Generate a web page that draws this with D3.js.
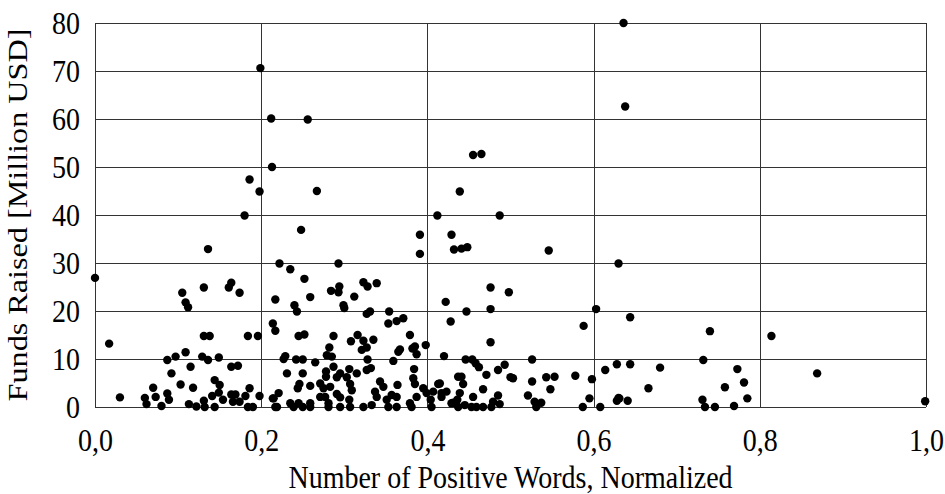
<!DOCTYPE html>
<html lang="en">
<head>
    <meta charset="UTF-8" />
    <title>Funds Raised vs Positive Words</title>
    <script src="https://d3js.org/d3.v7.min.js"></script>
    <style>
        body { margin: 0; background: #fff; }
        text { font-family: "Liberation Serif", "Times New Roman", serif; fill: #000; }
    </style>
</head>
<body>
    <div id="chart"></div>
    <script>
// x: number of positive words (normalized), y: funds raised (million USD)
var posWords = [
    0.199, 0.212, 0.256, 0.213, 0.186, 0.198, 0.180, 0.136, 0.222, 0.267,
    0.412, 0.248, 0.391, 0.391, 0.429, 0.432, 0.235, 0.293, 0.636, 0.638,
    0.455, 0.465, 0.439, 0.487, 0.441, 0.448, 0.546, 0.630, 0.000, 0.017,
    0.030, 0.105, 0.109, 0.112, 0.131, 0.161, 0.164, 0.174, 0.217, 0.214,
    0.217, 0.131, 0.138, 0.184, 0.196, 0.087, 0.097, 0.109, 0.129, 0.136,
    0.149, 0.164, 0.172, 0.115, 0.092, 0.103, 0.118, 0.070, 0.073, 0.060,
    0.062, 0.087, 0.089, 0.080, 0.113, 0.122, 0.131, 0.132, 0.144, 0.150,
    0.141, 0.144, 0.149, 0.154, 0.164, 0.169, 0.166, 0.174, 0.181, 0.186,
    0.184, 0.190, 0.198, 0.214, 0.219, 0.252, 0.240, 0.243, 0.259, 0.284,
    0.294, 0.293, 0.299, 0.300, 0.312, 0.323, 0.328, 0.339, 0.327, 0.331,
    0.354, 0.353, 0.363, 0.371, 0.422, 0.428, 0.245, 0.252, 0.287, 0.308,
    0.316, 0.323, 0.327, 0.321, 0.335, 0.379, 0.367, 0.365, 0.382, 0.387,
    0.398, 0.385, 0.420, 0.282, 0.279, 0.285, 0.229, 0.227, 0.242, 0.250,
    0.265, 0.287, 0.328, 0.332, 0.327, 0.306, 0.315, 0.359, 0.384, 0.383,
    0.385, 0.231, 0.250, 0.278, 0.278, 0.291, 0.295, 0.303, 0.307, 0.309,
    0.246, 0.244, 0.259, 0.271, 0.275, 0.283, 0.277, 0.291, 0.295, 0.271,
    0.259, 0.259, 0.221, 0.215, 0.217, 0.235, 0.239, 0.245, 0.250, 0.281,
    0.281, 0.295, 0.306, 0.307, 0.323, 0.333, 0.337, 0.339, 0.343, 0.347,
    0.351, 0.353, 0.357, 0.363, 0.364, 0.363, 0.379, 0.381, 0.387, 0.395,
    0.399, 0.404, 0.405, 0.407, 0.413, 0.417, 0.423, 0.429, 0.437, 0.436,
    0.476, 0.498, 0.447, 0.476, 0.476, 0.446, 0.454, 0.458, 0.462, 0.471,
    0.485, 0.493, 0.500, 0.503, 0.526, 0.526, 0.543, 0.553, 0.548, 0.521,
    0.529, 0.537, 0.531, 0.578, 0.588, 0.603, 0.598, 0.595, 0.587, 0.608,
    0.614, 0.628, 0.644, 0.644, 0.628, 0.630, 0.641, 0.415, 0.417, 0.441,
    0.443, 0.439, 0.455, 0.467, 0.485, 0.487, 0.431, 0.437, 0.445, 0.453,
    0.459, 0.467, 0.477, 0.479, 0.680, 0.666, 0.631, 0.740, 0.732, 0.731,
    0.734, 0.746, 0.769, 0.758, 0.773, 0.781, 0.785, 0.814, 0.869, 0.999
];
var fundsRaised = [
    70.6, 60.1, 59.9, 50.0, 47.4, 44.9, 39.9, 32.9, 29.9, 45.0,
    39.9, 36.9, 35.9, 31.9, 35.9, 32.8, 28.7, 29.9, 80.0, 62.6,
    52.5, 52.7, 44.9, 39.9, 33.0, 33.3, 32.6, 29.9, 26.9, 13.2,
    2.0, 23.8, 21.8, 20.8, 24.9, 24.9, 25.9, 23.8, 22.4, 17.4,
    15.9, 14.8, 14.8, 14.8, 14.8, 9.8, 10.5, 11.4, 10.5, 9.8,
    10.3, 8.4, 8.6, 8.4, 7.0, 4.7, 4.0, 4.0, 2.1, 1.9,
    0.6, 2.8, 1.5, 0.2, 0.6, 0.1, 1.3, 0.0, 5.6, 4.6,
    2.3, 0.0, 3.0, 1.5, 2.6, 2.6, 1.1, 1.1, 2.3, 3.9,
    0.0, 0.0, 2.3, 1.8, 0.0, 26.7, 21.2, 19.9, 22.9, 24.2,
    25.1, 23.9, 21.2, 20.6, 23.0, 26.0, 25.1, 25.8, 19.4, 19.9,
    19.9, 17.4, 17.9, 18.5, 21.9, 17.8, 14.8, 15.1, 14.8, 13.7,
    15.0, 13.8, 12.4, 11.9, 14.0, 15.0, 12.0, 11.5, 12.2, 11.0,
    12.9, 12.6, 10.6, 12.4, 10.8, 10.5, 10.6, 10.0, 9.9, 9.9,
    9.3, 8.4, 9.9, 8.1, 7.7, 7.9, 7.0, 9.6, 7.9, 6.0,
    4.8, 7.0, 7.0, 7.4, 6.3, 6.2, 7.0, 6.2, 4.8, 3.5,
    4.8, 3.9, 4.4, 4.9, 3.9, 4.2, 2.1, 2.7, 2.0, 2.1,
    0.8, 0.0, 2.9, 1.8, 0.0, 0.8, 0.0, 0.8, 0.0, 0.8,
    0.0, 0.0, 1.5, 0.0, 0.0, 0.4, 3.2, 2.1, 5.3, 4.2,
    1.5, 0.0, 2.5, 2.1, 4.6, 0.0, 0.8, 0.0, 2.1, 3.9,
    2.9, 1.5, 0.0, 3.2, 4.8, 2.9, 3.2, 0.8, 6.3, 1.5,
    24.9, 23.9, 19.9, 20.4, 13.5, 9.9, 9.9, 9.1, 8.3, 6.7,
    7.7, 8.8, 6.2, 6.0, 9.9, 5.3, 6.2, 6.3, 3.7, 2.4,
    1.1, 0.9, 0.0, 6.5, 16.9, 20.4, 5.8, 1.8, 0.0, 0.0,
    7.7, 8.9, 8.9, 18.7, 1.3, 1.9, 1.3, 4.9, 2.1, 6.3,
    4.8, 2.9, 2.1, 3.7, 2.4, 0.6, 0.9, 0.0, 0.4, 0.0,
    0.0, 0.0, 0.0, 1.1, 8.2, 3.9, 1.8, 15.8, 9.8, 1.5,
    0.0, 0.0, 0.2, 4.1, 7.9, 5.1, 1.8, 14.8, 7.0, 1.2
];
var xTicks = [0, 0.2, 0.4, 0.6, 0.8, 1.0];
var yTicks = [0, 10, 20, 30, 40, 50, 60, 70, 80];

var width = 945, height = 494;
var margin = { top: 23, right: 19, bottom: 87, left: 95 };
var stretch = 1.15; // text in the original is drawn a bit taller than wide

var svg = d3.select("#chart").append("svg")
    .attr("width", width)
    .attr("height", height);

var x = d3.scaleLinear().domain([0, 1]).range([margin.left, width - margin.right]);
var y = d3.scaleLinear().domain([0, 80]).range([height - margin.bottom, margin.top]);

// gridlines
svg.append("g").selectAll("line")
    .data(yTicks).enter().append("line")
    .attr("x1", x(0)).attr("x2", x(1))
    .attr("y1", function(d) { return Math.round(y(d)) + 0.5; })
    .attr("y2", function(d) { return Math.round(y(d)) + 0.5; })
    .attr("stroke", "#333");
svg.append("g").selectAll("line")
    .data(xTicks).enter().append("line")
    .attr("y1", y(0)).attr("y2", y(80))
    .attr("x1", function(d) { return Math.round(x(d)) + 0.5; })
    .attr("x2", function(d) { return Math.round(x(d)) + 0.5; })
    .attr("stroke", "#333");

// axes (labels only)
var fmt = function(d) { return d3.format(".1f")(d).replace(".", ","); };
var xAxis = svg.append("g")
    .attr("transform", "translate(0," + y(0) + ")")
    .call(d3.axisBottom(x).tickValues(xTicks).tickFormat(fmt).tickSize(0));
var yAxis = svg.append("g")
    .attr("transform", "translate(" + x(0) + ",0)")
    .call(d3.axisLeft(y).tickValues(yTicks).tickSize(0));
[xAxis, yAxis].forEach(function(g) {
    g.select(".domain").remove();
    g.selectAll("text")
        .style("font-family", "'Liberation Serif', serif")
        .style("font-size", "28px")
        .attr("fill", "#000");
});
xAxis.selectAll("text")
    .attr("x", 0).attr("y", 0).attr("dy", null)
    .attr("transform", "translate(0,44) scale(1," + stretch + ")");
yAxis.selectAll("text")
    .attr("x", 0).attr("y", 0).attr("dy", "0.34em")
    .attr("transform", "translate(-15,0) scale(1," + stretch + ")");

// points
svg.append("g").selectAll("circle")
    .data(posWords).enter().append("circle")
    .attr("cx", function(d) { return x(d); })
    .attr("cy", function(d, i) { return y(fundsRaised[i]); })
    .attr("r", 4.2)
    .attr("fill", "#000");

// titles
svg.append("text")
    .attr("transform", "translate(" + (x(0) + x(1)) / 2 + ",488) scale(1," + stretch + ")")
    .attr("text-anchor", "middle")
    .style("font-size", "28px")
    .text("Number of Positive Words, Normalized");

svg.append("text")
    .attr("transform", "translate(27," + (y(0) + y(80)) / 2 + ") rotate(-90) scale(" + stretch + ",1)")
    .attr("text-anchor", "middle")
    .style("font-size", "28px")
    .text("Funds Raised [Million USD]");
    </script>
</body>
</html>
